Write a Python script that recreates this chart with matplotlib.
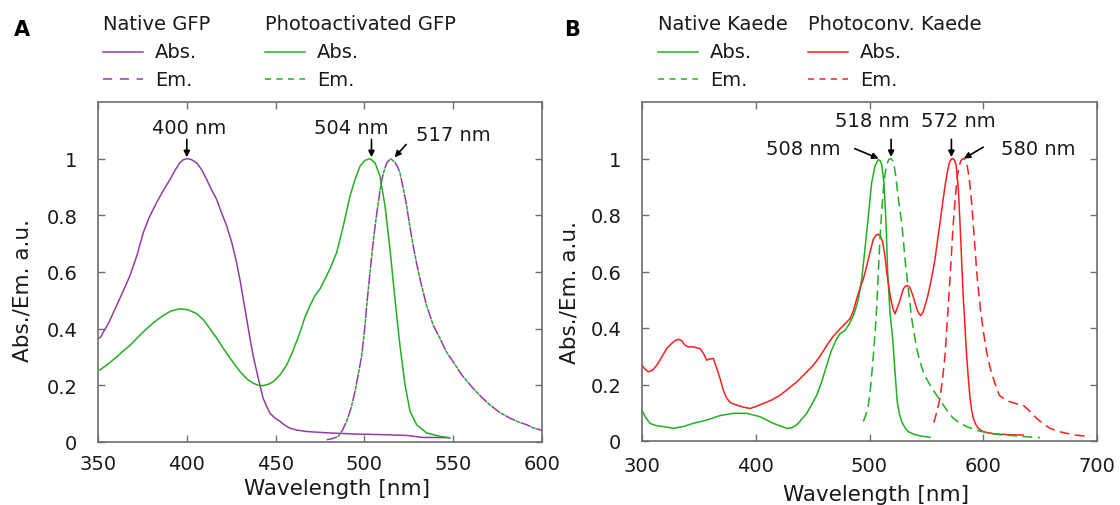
import matplotlib
matplotlib.use("Agg")
import matplotlib.pyplot as plt
from matplotlib.lines import Line2D

plt.rcParams['font.family'] = ['DejaVu Sans']

# ---------------- Panel A data (GFP) ----------------
gfp_native_abs_x = [350, 351.5, 353, 356, 360.5, 364, 368, 372, 375.5, 379, 383, 387, 390.5, 393.5,
                    396, 398, 400, 402.5, 405.6, 408.5, 411.2, 414, 416.8, 419.5, 422.5, 425.5,
                    428, 430, 431.8, 433.7, 435.6, 437.5, 439.4, 441.2, 443, 445, 446.8, 449.5,
                    452.5, 455, 458, 462, 467.5, 480, 495.7, 510, 524, 533, 540, 548]
gfp_native_abs_y = [0.365, 0.37, 0.388, 0.42, 0.482, 0.53, 0.587, 0.66, 0.739, 0.795, 0.845, 0.89,
                    0.926, 0.96, 0.985, 0.996, 1.0, 0.997, 0.985, 0.96, 0.926, 0.89, 0.856, 0.81,
                    0.762, 0.70, 0.634, 0.57, 0.505, 0.435, 0.365, 0.30, 0.248, 0.20, 0.154,
                    0.125, 0.102, 0.085, 0.073, 0.06, 0.049, 0.042, 0.037, 0.032, 0.028, 0.026,
                    0.023, 0.016, 0.016, 0.015]

gfp_pa_abs_x = [351, 355, 360.5, 364, 368, 372.5, 377.4, 382, 386.8, 391, 396, 400.5, 405.6, 409.5,
                413, 417, 420.6, 425, 430, 434, 437.5, 440.5, 443, 446, 448.7, 452.5, 456.2, 460,
                463.8, 466.5, 469.4, 472, 475, 480.6, 484.4, 488.1, 491.9, 494.7, 497.5, 500.3,
                503.2, 506, 508.8, 511.6, 514.4, 517.2, 520, 522.9, 525.7, 529.4, 535, 542.6, 548]
gfp_pa_abs_y = [0.254, 0.272, 0.30, 0.32, 0.341, 0.37, 0.40, 0.425, 0.447, 0.462, 0.47, 0.467,
                0.453, 0.43, 0.40, 0.365, 0.33, 0.29, 0.248, 0.222, 0.207, 0.20, 0.199, 0.204,
                0.213, 0.237, 0.271, 0.325, 0.388, 0.44, 0.482, 0.515, 0.540, 0.611, 0.669,
                0.762, 0.868, 0.926, 0.973, 0.994, 1.0, 0.985, 0.938, 0.833, 0.681, 0.505,
                0.341, 0.201, 0.108, 0.061, 0.032, 0.02, 0.015]

gfp_em_x = [478.8, 482, 485.3, 487.5, 490, 492.5, 494.7, 496.6, 498.5, 500, 501.3, 502.7, 504.1,
            505.5, 507, 508.4, 509.8, 511.2, 512.6, 514.8, 517.2, 518.6, 520, 521.9, 523.8,
            525.6, 527.5, 529.4, 531.3, 535, 538.8, 542.6, 546, 550, 555, 561.3, 566, 570.7,
            576, 582, 587, 591.4, 595, 598.9, 600]
gfp_em_y = [0.008, 0.012, 0.02, 0.04, 0.073, 0.12, 0.178, 0.24, 0.306, 0.39, 0.482, 0.57, 0.657,
            0.735, 0.809, 0.87, 0.926, 0.96, 0.985, 1.0, 0.987, 0.972, 0.95, 0.895, 0.833, 0.76,
            0.692, 0.63, 0.575, 0.482, 0.412, 0.365, 0.32, 0.283, 0.235, 0.189, 0.158, 0.131,
            0.105, 0.084, 0.07, 0.061, 0.05, 0.043, 0.04]

# ---------------- Panel B data (Kaede) ----------------
kaede_native_abs_x = [300, 303, 307, 312, 318.7, 327.5, 336.3, 345, 356.9, 368.6, 380.3, 392,
                      403.7, 415.4, 427.2, 432, 436, 440, 444.8, 449, 453.6, 458, 462.4, 466.5,
                      471.2, 474.1, 478, 480, 483, 485.8, 488, 490.2, 493.2, 496, 499, 501.9,
                      504.8, 507.7, 509.3, 510.7, 512.7, 514.5, 516, 518, 520.4, 522.4, 524.4,
                      526.3, 528.3, 531, 534.1, 539, 544.4, 553.2]
kaede_native_abs_y = [0.109, 0.085, 0.0625, 0.055, 0.051, 0.045, 0.051, 0.0625, 0.074, 0.09,
                      0.098, 0.098, 0.086, 0.0625, 0.045, 0.047, 0.057, 0.075, 0.098, 0.128,
                      0.162, 0.21, 0.268, 0.32, 0.362, 0.38, 0.39, 0.40, 0.42, 0.444, 0.47,
                      0.503, 0.574, 0.679, 0.797, 0.914, 0.973, 0.996, 0.993, 0.979, 0.914,
                      0.773, 0.597, 0.456, 0.362, 0.245, 0.139, 0.095, 0.069, 0.048, 0.033,
                      0.024, 0.018, 0.013]

kaede_native_em_x = [494.6, 497, 499, 501.2, 503.4, 505, 506.4, 507.8, 509.2, 510.7, 512.2,
                     513.7, 515.2, 517, 518.7, 520.2, 521.5, 523, 524.4, 526.3, 528.3, 529.8,
                     531.2, 532.7, 534.1, 535.6, 537.1, 539.3, 541.5, 544.4, 547.3, 550.2,
                     553.2, 556, 559, 562, 564.9, 569, 573.7, 579, 585.4, 595, 605.9, 615,
                     626.4, 638, 650]
kaede_native_em_y = [0.069, 0.095, 0.127, 0.2, 0.303, 0.39, 0.479, 0.6, 0.715, 0.81, 0.891,
                     0.945, 0.979, 0.997, 1.0, 0.993, 0.979, 0.94, 0.891, 0.83, 0.773, 0.71,
                     0.644, 0.59, 0.538, 0.485, 0.433, 0.38, 0.327, 0.28, 0.245, 0.22, 0.198,
                     0.18, 0.162, 0.145, 0.127, 0.103, 0.08, 0.065, 0.051, 0.037, 0.027, 0.022,
                     0.019, 0.015, 0.012]

kaede_pc_abs_x = [300, 302.5, 305.5, 309, 313, 317, 321.7, 326, 329, 332, 335, 337.5, 340.7, 345,
                  351, 354, 356.9, 359, 362.7, 365.5, 368.6, 371.5, 374.5, 378, 383.3, 389, 395,
                  400, 406.7, 414, 421.3, 428, 436, 443, 450.6, 456.5, 462.4, 468, 474.1, 478.5,
                  482.9, 485.8, 488.7, 491.6, 494.6, 497, 499, 501.2, 503.4, 505.6, 507.7,
                  509.7, 511.6, 513.4, 515.2, 517, 518.7, 520.5, 522.4, 524.3, 526.2, 528,
                  529.7, 531.5, 533.2, 535.2, 537.1, 539.3, 541.5, 543.3, 545, 547, 548.8, 551,
                  553.2, 555.4, 557.6, 559.8, 562, 564.2, 566.4, 568.3, 570.2, 571.7, 573.2,
                  574.6, 576, 577, 578.1, 579.1, 580.2, 581.3, 582.5, 584, 585.4, 586.9, 588.4,
                  589.8, 591.3, 593.5, 595.7, 599, 603, 608.9, 614.7, 625, 635.2]
kaede_pc_abs_y = [0.268, 0.255, 0.245, 0.25, 0.268, 0.295, 0.327, 0.345, 0.355, 0.36, 0.355, 0.34,
                  0.333, 0.333, 0.327, 0.31, 0.286, 0.29, 0.292, 0.26, 0.221, 0.18, 0.151, 0.135,
                  0.127, 0.12, 0.115, 0.122, 0.133, 0.145, 0.162, 0.183, 0.209, 0.237, 0.268,
                  0.30, 0.338, 0.37, 0.397, 0.415, 0.433, 0.46, 0.503, 0.54, 0.574, 0.61, 0.644,
                  0.68, 0.715, 0.728, 0.732, 0.725, 0.703, 0.66, 0.597, 0.545, 0.503, 0.47, 0.45,
                  0.47, 0.491, 0.515, 0.538, 0.548, 0.55, 0.545, 0.527, 0.50, 0.468, 0.452,
                  0.444, 0.455, 0.479, 0.51, 0.55, 0.595, 0.644, 0.71, 0.773, 0.84, 0.902, 0.95,
                  0.985, 0.997, 1.0, 0.995, 0.979, 0.945, 0.891, 0.81, 0.715, 0.61, 0.503, 0.40,
                  0.303, 0.22, 0.151, 0.11, 0.08, 0.058, 0.045, 0.035, 0.03, 0.026, 0.024, 0.022,
                  0.021]

kaede_pc_em_x = [556.5, 559, 562, 564.2, 566.4, 568.3, 570.2, 572, 573.7, 575.5, 577.2, 578.7,
                 580.2, 581.7, 583.1, 584.6, 586, 587.2, 588.4, 589.9, 591.3, 592.8, 594.3, 596,
                 597.8, 600.4, 603, 606, 608.9, 611.5, 614.1, 618, 623.5, 629, 635.2, 641, 647,
                 653, 658.7, 666, 673.4, 683, 694]
kaede_pc_em_y = [0.065, 0.10, 0.151, 0.22, 0.303, 0.42, 0.538, 0.66, 0.773, 0.865, 0.938, 0.97,
                 0.991, 0.999, 1.0, 0.99, 0.973, 0.94, 0.902, 0.84, 0.761, 0.68, 0.597, 0.525,
                 0.456, 0.38, 0.315, 0.26, 0.221, 0.19, 0.162, 0.15, 0.139, 0.132, 0.127, 0.105,
                 0.08, 0.06, 0.045, 0.034, 0.027, 0.02, 0.016]

xticks_a = [350, 400, 450, 500, 550, 600]
xticks_b = [300, 400, 500, 600, 700]
yticks = [0, 0.2, 0.4, 0.6, 0.8, 1]
ytick_labels = ['0', '0.2', '0.4', '0.6', '0.8', '1']

PURPLE = '#8f3fa3'
GREEN = '#20b020'
RED = '#ff1e1e'
AXC = '#6e6e6e'
TXT = '#1a1a1a'
FS = 14
FS_LABEL = 15.5
LW = 1.1

W, H = 1120, 506
fig = plt.figure(figsize=(W / 100, H / 100), dpi=100)


def fx(px):
    return px / W


def fy(py):
    return 1 - py / H


def style_axes(ax, xticks, xpad):
    for s in ax.spines.values():
        s.set_color(AXC)
        s.set_linewidth(1.2)
    ax.set_ylim(0, 1.2)
    ax.set_yticks(yticks)
    ax.set_yticklabels(ytick_labels)
    ax.set_xticks(xticks)
    ax.tick_params(axis='both', direction='in', length=5, width=1.0, color=AXC,
                   top=True, right=True, labelsize=FS, labelcolor=TXT)
    ax.tick_params(axis='y', pad=15)
    ax.tick_params(axis='x', pad=xpad)


def arrow(ax, xy, xytext):
    ax.annotate('', xy=xy, xytext=xytext,
                arrowprops=dict(arrowstyle='-|>', color='black', lw=1.2,
                                mutation_scale=9, shrinkA=0, shrinkB=0))


def label(ax, x, y, s):
    ax.text(x, y, s, fontsize=FS, ha='center', va='center', color=TXT)


# ---------------- Panel A ----------------
axA = fig.add_axes([fx(98), fy(443), fx(444), 340 / H])
axA.plot(gfp_native_abs_x, gfp_native_abs_y, color=PURPLE, lw=LW)
axA.plot(gfp_pa_abs_x, gfp_pa_abs_y, color=GREEN, lw=LW)
axA.plot(gfp_em_x, gfp_em_y, color=GREEN, lw=LW, linestyle=(3.5, (3, 8)))
axA.plot(gfp_em_x, gfp_em_y, color=PURPLE, lw=LW, linestyle=(0, (7, 4)))
axA.set_xlim(350, 600)
style_axes(axA, xticks_a, 9)
axA.set_xlabel('Wavelength [nm]', fontsize=FS_LABEL, color=TXT, labelpad=3)
axA.xaxis.label.set_x(0.538)
axA.set_ylabel('Abs./Em. a.u.', fontsize=FS_LABEL, color=TXT, labelpad=10)
axA.yaxis.label.set_y(0.45)

label(axA, 401.5, 1.11, '400 nm')
arrow(axA, (400, 1.005), (400, 1.068))
label(axA, 492.5, 1.11, '504 nm')
arrow(axA, (504, 1.005), (504, 1.068))
label(axA, 550, 1.086, '517 nm')
arrow(axA, (517, 1.005), (523.5, 1.05))

# ---------------- Panel B ----------------
axB = fig.add_axes([fx(642), fy(442), fx(455), 339 / H])
axB.plot(kaede_native_abs_x, kaede_native_abs_y, color=GREEN, lw=LW)
axB.plot(kaede_pc_abs_x, kaede_pc_abs_y, color=RED, lw=LW)
axB.plot(kaede_native_em_x, kaede_native_em_y, color=GREEN, lw=LW, dashes=(6.5, 3.5))
axB.plot(kaede_pc_em_x, kaede_pc_em_y, color=RED, lw=LW, dashes=(6.5, 3.5))
axB.set_xlim(300, 700)
style_axes(axB, xticks_b, 11)
axB.set_xlabel('Wavelength [nm]', fontsize=FS_LABEL, color=TXT, labelpad=6)
axB.xaxis.label.set_x(0.514)
axB.set_ylabel('Abs./Em. a.u.', fontsize=FS_LABEL, color=TXT, labelpad=8)
axB.yaxis.label.set_y(0.44)

label(axB, 442, 1.035, '508 nm')
arrow(axB, (508, 1.0), (487, 1.035))
label(axB, 502.5, 1.135, '518 nm')
arrow(axB, (519, 1.005), (519, 1.068))
label(axB, 578.5, 1.135, '572 nm')
arrow(axB, (572, 1.005), (572, 1.068))
label(axB, 648.5, 1.035, '580 nm')
arrow(axB, (583, 1.0), (600, 1.04))

# ---------------- Panel letters ----------------
fig.text(fx(22), fy(30), 'A', fontsize=15, fontweight='bold', ha='center', va='center')
fig.text(fx(572), fy(30), 'B', fontsize=15, fontweight='bold', ha='center', va='center')


# ---------------- Legends (manual) ----------------
def legend_block(x0, title, color, dash_em):
    fig.text(fx(x0), fy(25), title, fontsize=FS, ha='left', va='center', color=TXT)
    fig.add_artist(Line2D([fx(x0), fx(x0 + 40)], [fy(53), fy(53)], color=color, lw=LW,
                          transform=fig.transFigure))
    fig.text(fx(x0 + 52), fy(53), 'Abs.', fontsize=FS, ha='left', va='center', color=TXT)
    fig.add_artist(Line2D([fx(x0), fx(x0 + 40)], [fy(80), fy(80)], color=color, lw=LW,
                          dashes=dash_em, transform=fig.transFigure))
    fig.text(fx(x0 + 52), fy(80), 'Em.', fontsize=FS, ha='left', va='center', color=TXT)


legend_block(103, 'Native GFP', PURPLE, (6, 5))
legend_block(265, 'Photoactivated GFP', GREEN, (4, 3.5))
legend_block(658, 'Native Kaede', GREEN, (4, 3.5))
legend_block(808, 'Photoconv. Kaede', RED, (4, 3.5))

fig.savefig('out.png', dpi=100)
